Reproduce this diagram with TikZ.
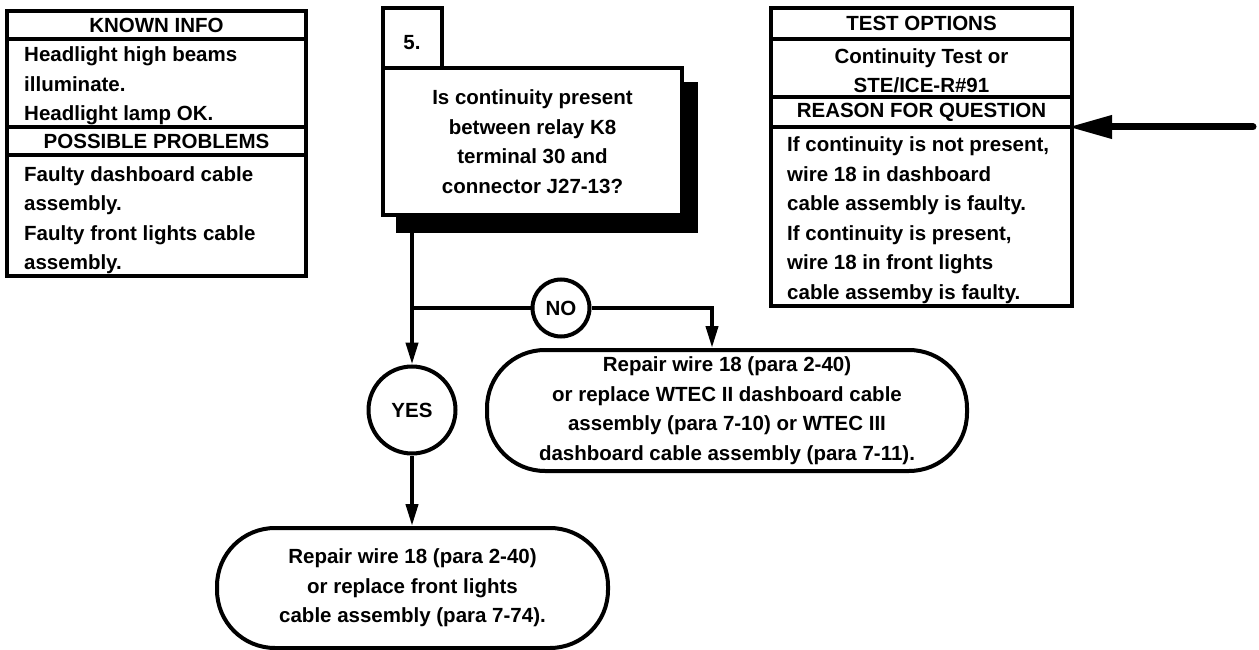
\documentclass[tikz,border=0pt]{standalone}
\usepackage{fontspec}
\setmainfont{Liberation Sans}
\usetikzlibrary{arrows.meta}
\begin{document}
\begin{tikzpicture}[x=1pt,y=-1pt,
  every node/.style={font=\fontsize{20.5}{29.5}\selectfont\bfseries},
  frame/.style 2 args={draw, line width=4pt, minimum width=#1, minimum height=#2, inner sep=0pt, fill=white},
  txt/.style={inner sep=0pt, align=left, anchor=west},
  ctxt/.style={inner sep=0pt, align=center},
  ring/.style={draw, circle, line width=4pt, minimum size=#1, inner sep=0pt, fill=white},
  endbox/.style 2 args={draw, line width=4pt, rounded corners=58pt, minimum width=#1, minimum height=#2, inner sep=0pt, align=center},
  conn/.style={line width=4pt, -{Triangle[length=22pt,width=12pt]}},
  plain/.style={line width=4pt},
  bigarrow/.style={line width=7pt, line cap=round, -{Triangle[length=44pt,width=22pt]}}
]
\useasboundingbox (0,0) rectangle (1259,650);

% ---- left info box
\node[frame={299}{28}] (kh) at (156.5,25) {KNOWN INFO};
\node[frame={299}{88}] (kb) at (156.5,83) {};
\node[frame={299}{28}] (ph) at (156.5,141) {POSSIBLE PROBLEMS};
\node[frame={299}{121}] (pb) at (156.5,215.5) {};
\node[txt] (kbt) at (24,86) {Headlight high beams\\illuminate.\\Headlight lamp OK.};
\node[txt] (pbt) at (24,220) {Faulty dashboard cable\\assembly.\\Faulty front lights cable\\assembly.};

% ---- right info box
\node[frame={301}{31}] (th) at (921.5,23.5) {TEST OPTIONS};
\node[frame={301}{58}] (tb) at (921.5,68) {};
\node[frame={301}{30}] (rh) at (921.5,112) {REASON FOR QUESTION};
\node[frame={301}{179}] (rb) at (921.5,216.5) {};
\node[ctxt] (tbt) at (921.5,71) {Continuity Test or\\STE/ICE-R\#91};
\node[txt] (rbt) at (787,220) {If continuity is not present,\\wire 18 in dashboard\\cable assembly is faulty.\\If continuity is present,\\wire 18 in front lights\\cable assemby is faulty.};

% ---- question box
\node[fill=black, minimum width=302, minimum height=151, inner sep=0pt] (shadow) at (547,157.5) {};
\node[frame={59}{60}] (num) at (412.5,38) {};
\node[ctxt] (numt) at (412,43) {5.};
\node[frame={299}{147}, align=center] (q) at (532.5,141.5) {Is continuity present\\between relay K8\\terminal 30 and\\connector J27-13?};

% ---- decision circles
\node[ring=87] (yes) at (412,410) {YES};
\node[ring=57] (no) at (561,308) {NO};
\coordinate (nx) at (712,308);

% ---- end boxes
\node[endbox={480}{121}] (nobox) at (727,410.5) {Repair wire 18 (para 2-40)\\or replace WTEC II dashboard cable\\assembly (para 7-10) or WTEC III\\dashboard cable assembly (para 7-11).};
\node[endbox={391}{120}] (yesbox) at (412.5,588) {Repair wire 18 (para 2-40)\\or replace front lights\\cable assembly (para 7-74).};

% ---- connectors
\draw[conn] (shadow.south -| yes) -- (yes.north);
\draw[plain] (yes |- no) -- (no.west);
\draw[conn] (no.east) -- (nx) -- (nobox.north -| nx);
\draw[conn] (yes.south) -- (yes.south |- yesbox.north);

\coordinate (src) at (1253,127);
\coordinate (dst) at (1068,127);
\draw[bigarrow] (src) -- (dst);
\end{tikzpicture}
\end{document}
